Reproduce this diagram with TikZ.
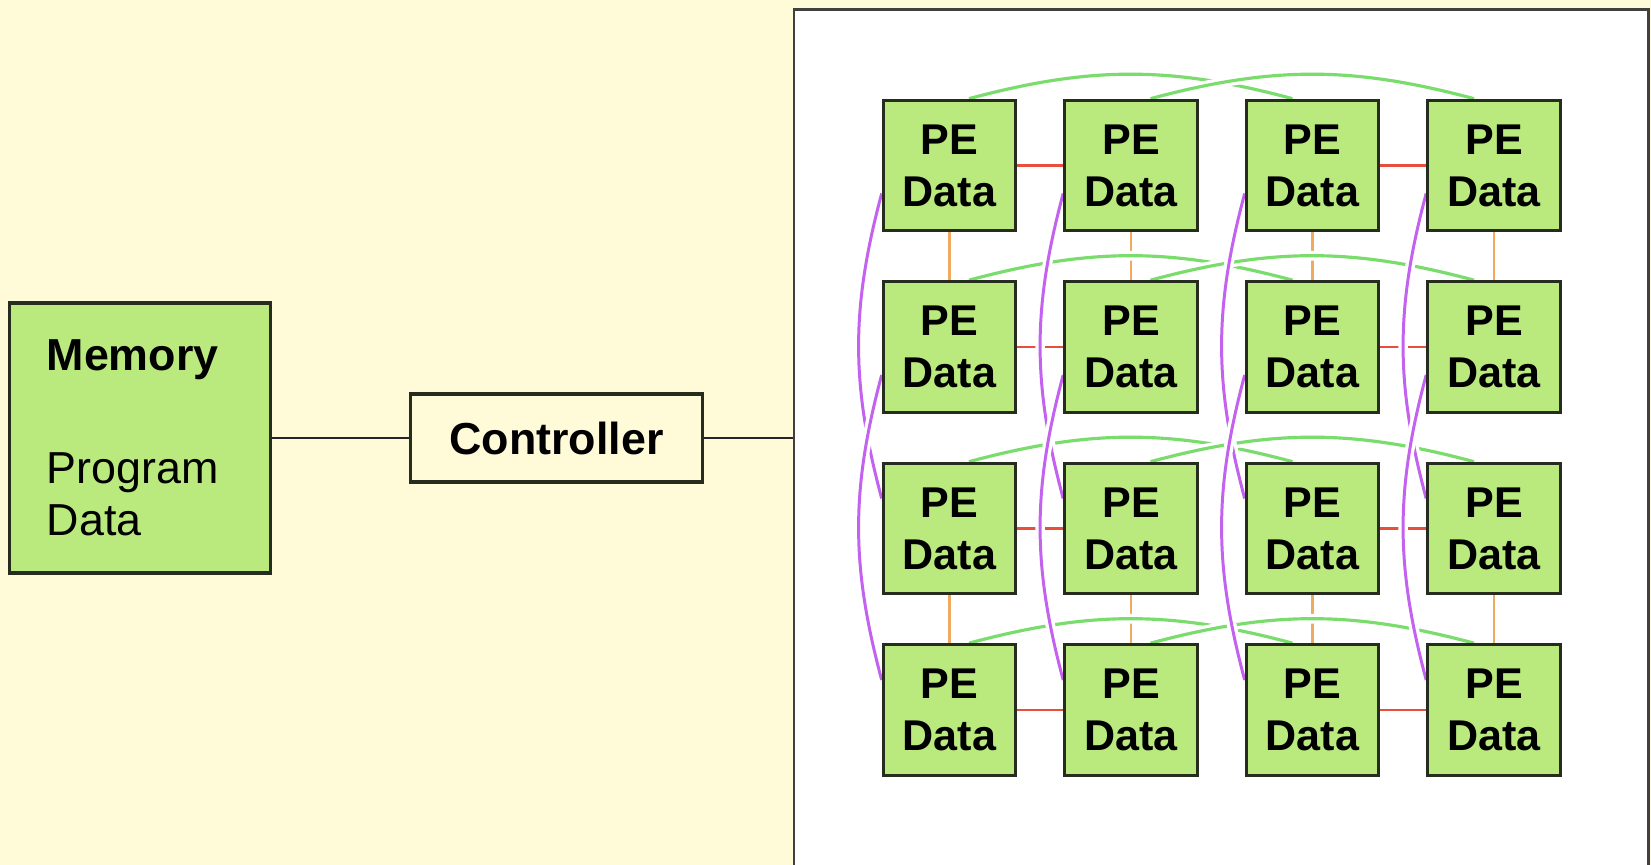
\documentclass[tikz,border=0pt]{standalone}
\usepackage{fontspec}
\setmainfont{Liberation Sans}
\usepackage{tikz}
\usetikzlibrary{positioning}
\usetikzlibrary{calc}

\definecolor{cream}{RGB}{255,251,216}
\definecolor{pegreen}{RGB}{186,234,126}
\definecolor{edge}{RGB}{38,44,30}
\definecolor{wgreen}{RGB}{122,220,108}
\definecolor{wpurple}{RGB}{196,98,240}
\definecolor{lred}{RGB}{232,78,60}
\definecolor{lorange}{RGB}{240,170,96}

\pgfdeclarelayer{back}
\pgfdeclarelayer{links}
\pgfsetlayers{back,links,main}

\begin{document}
\begin{tikzpicture}[
    box/.style={draw=edge, fill=pegreen, line width=1.8pt, inner sep=0pt},
    pe/.style={box, minimum width=2.65cm, minimum height=2.61cm, align=center, font=\bfseries\fontsize{24.5}{29.6}\selectfont},
    ctrl/.style={box, fill=cream, minimum width=5.84cm, minimum height=1.76cm, font=\bfseries\fontsize{25.5}{30}\selectfont},
    wire/.style={draw=black!85, line width=1.3pt},
    rowlink/.style={draw=lred, line width=1.6pt},
    collink/.style={draw=lorange, line width=1.6pt},
    halo/.style={preaction={draw=white, line width=5.5pt}},
    wrapx/.style={halo, draw=wgreen, line width=1.8pt},
    wrapy/.style={halo, draw=wpurple, line width=1.7pt}]

    \useasboundingbox (0,0) rectangle (33.02,-17.30);

    % backdrop and the array panel
    \begin{pgfonlayer}{back}
      \clip (0,0) rectangle (33.02,-17.30);
      \fill[cream] (0,0) rectangle (33.02,-17.30);
      \node[draw=black!75, fill=white, line width=1.7pt, inner sep=0pt, anchor=north west,
            minimum width=17.08cm, minimum height=17.16cm] (array) at (15.85,-0.17) {};
    \end{pgfonlayer}

    % memory and controller
    \node[box, text width=3.73cm, inner xsep=0.75cm, minimum height=5.40cm, align=left,
          font=\fontsize{25.5}{29.6}\selectfont] (mem) at (2.8,-8.76) {\textbf{Memory}\\[34.7pt]Program\\Data};
    \node[ctrl] (con) at (11.13,-8.76) {Controller};

    \draw[wire] (mem) -- (con);
    \draw[wire] (con) -- (con -| array.west);

    % the 4x4 PE grid
    \def\d{3.63};
    \def\dx{18.99};
    \def\dy{-3.31};
    \foreach \r in {1,...,4}
      \foreach \c in {1,...,4}
        \node[pe] (P\r\c) at ({\dx + (\c-1)*\d}, {\dy - (\r-1)*\d}) {PE\\Data};

    \begin{pgfonlayer}{links}
    % neighbour links
    \foreach \r in {1,...,4} {
        \draw[rowlink] (P\r1) -- (P\r2);
        \draw[rowlink] (P\r3) -- (P\r4);
    }
    \foreach \c in {1,...,4} {
        \draw[collink] (P1\c) -- (P2\c);
        \draw[collink] (P3\c) -- (P4\c);
    }
    % folded links along the rows
    \foreach \r in {1,...,4}
      \foreach \s/\t in {1/3, 2/4}
        \draw[wrapx] ([xshift=0.39cm]P\r\s.north) to[bend left=15] ([xshift=-0.4cm]P\r\t.north);
    % folded links along the columns
    \foreach \c in {1,...,4}
      \foreach \s/\t in {1/3, 2/4}
        \draw[wrapy] ([yshift=-0.56cm]P\s\c.west) to[bend right=15] ([yshift=0.6cm]P\t\c.west);
    \end{pgfonlayer}

\end{tikzpicture}
\end{document}
